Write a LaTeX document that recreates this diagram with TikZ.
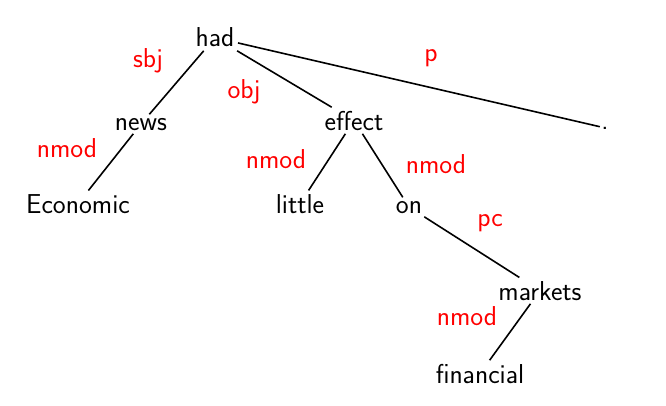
\documentclass[tikz,border=0pt]{standalone}
\begin{document}
\begin{tikzpicture}[x=0.75pt,y=-0.75pt,
  word/.style={anchor=base,font=\sffamily\fontsize{20.5}{24}\selectfont,inner sep=2.5pt,text=black},
  rel/.style={anchor=base,font=\sffamily\fontsize{20.5}{24}\selectfont,inner sep=0pt,text=red},
  edge/.style={draw=black,line width=1.2pt}]
\useasboundingbox (0,0) rectangle (666,406);
\node[word] (had) at (215,47) {had};
\node[word] (news) at (141,130) {news};
\node[word] (econ) at (78,213) {Economic};
\node[word] (effect) at (354,130) {effect};
\node[word] (little) at (300,213) {little};
\node[word] (on) at (409,213) {on};
\node[word] (markets) at (540,300) {markets};
\node[word] (financial) at (480,383) {financial};
\node[word,inner sep=1pt] (dot) at (605,129) {.};
\node[rel] (lsbj) at (148,68) {sbj};
\node[rel] (lobj) at (244,99) {obj};
\node[rel] (lnmod1) at (67,157) {nmod};
\node[rel] (lnmod2) at (276,168) {nmod};
\node[rel] (lp) at (431,62) {p};
\node[rel] (lnmod3) at (436,173) {nmod};
\node[rel] (lpc) at (490,226) {pc};
\node[rel] (lnmod4) at (467,325) {nmod};
\draw[edge] (had) -- (news);
\draw[edge] (news) -- (econ);
\draw[edge] (had) -- (effect);
\draw[edge] (had) -- (dot);
\draw[edge] (effect) -- (little);
\draw[edge] (effect) -- (on);
\draw[edge] (on) -- (markets);
\draw[edge] (markets) -- (financial);
\end{tikzpicture}
\end{document}
